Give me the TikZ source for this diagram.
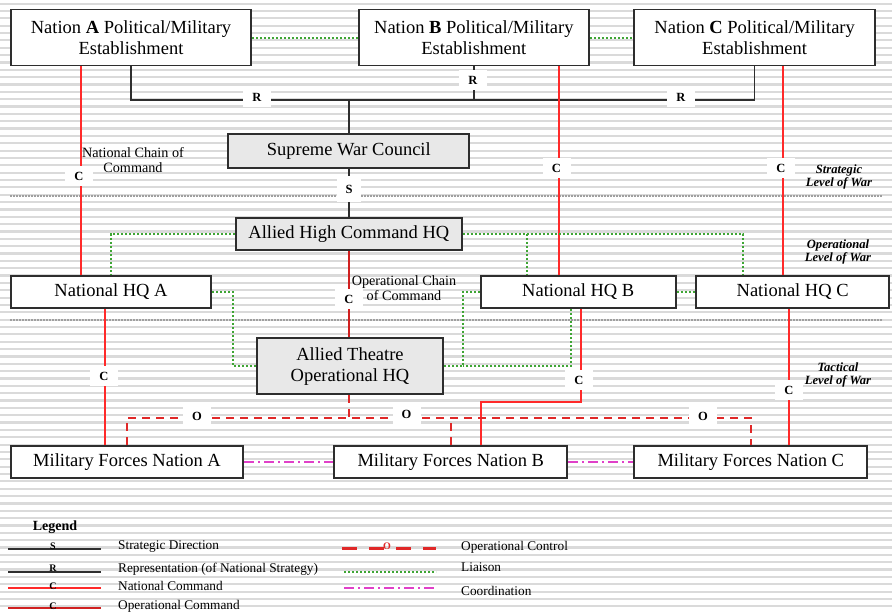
\documentclass[tikz,border=0pt]{standalone}
\usepackage{fontspec}
\setmainfont{Liberation Serif}
\usetikzlibrary{calc}
\definecolor{natred}{HTML}{FF2A2A}
\definecolor{opred}{HTML}{D02020}
\definecolor{ocred}{HTML}{E02828}
\definecolor{liagreen}{HTML}{3FA535}
\definecolor{coormag}{HTML}{E040C8}
\definecolor{boxgrey}{HTML}{E8E8E8}
\definecolor{stripe}{HTML}{DADADA}
\definecolor{edge}{HTML}{2E2E2E}
\begin{document}
\begin{tikzpicture}[x=1pt,y=-1pt,
 box/.style={draw=edge,line width=1.8pt,fill=white,inner sep=0,align=center,font=\fontsize{18.5}{21.5}\selectfont},
 gbox/.style={box,fill=boxgrey},
 lab/.style={fill=white,inner sep=0,minimum width=28,minimum height=20,font=\fontsize{12.5}{12.5}\selectfont\bfseries},
 leglab/.style={inner sep=0,font=\fontsize{10}{10}\selectfont\bfseries},
 rep/.style={draw=edge,line width=1.6pt},
 natc/.style={draw=natred,line width=1.6pt},
 opc/.style={draw=opred,line width=1.6pt},
 ctl/.style={draw=ocred,line width=1.6pt,dash pattern=on 8pt off 6pt},
 lia/.style={draw=liagreen,line width=2pt,dash pattern=on 2pt off 2pt},
 coo/.style={draw=coormag,line width=1.6pt,dash pattern=on 10pt off 4pt on 2pt off 4pt},
 small/.style={font=\fontsize{14.2}{15}\selectfont,align=center,inner sep=0},
 legtxt/.style={font=\fontsize{13.3}{14}\selectfont,anchor=west,inner sep=0},
 lvl/.style={font=\fontsize{12.6}{13}\selectfont\bfseries\itshape,align=center,inner sep=0},
 divider/.style={draw=gray!75,line width=1.5pt,dash pattern=on 1.5pt off 1.5pt},
]
\useasboundingbox (0,0) rectangle (892,611);
\fill[white] (0,0) rectangle (892,611);
\foreach \i in {0,...,83} {\fill[stripe] (0,{\i*7.35+2.5}) rectangle (892,{\i*7.35+4.7});}
% level dividers
\draw[divider] (10,196) -- (882,196);
\draw[divider] (10,320) -- (882,320);

% boxes
\node[box,minimum width=240,minimum height=56] (na) at (131,37.5) {Nation \textbf{A} Political/Military\\Establishment};
\node[box,minimum width=230,minimum height=56] (nb) at (473.85,37.5) {Nation \textbf{B} Political/Military\\Establishment};
\node[box,minimum width=240.7,minimum height=56] (nc) at (754.65,37.5) {Nation \textbf{C} Political/Military\\Establishment};
\node[gbox,minimum width=241,minimum height=34.3] (swc) at (348.8,151.2) {Supreme War Council};
\node[gbox,minimum width=225.7,minimum height=32.3] (ahc) at (348.85,233.85) {Allied High Command HQ};
\node[box,minimum width=200.6,minimum height=32] (nhqa) at (111,292) {National HQ A};
\node[box,minimum width=195,minimum height=32] (nhqb) at (578.2,292) {National HQ B};
\node[box,minimum width=192.7,minimum height=32] (nhqc) at (792.65,292) {National HQ C};
\node[gbox,minimum width=186.6,minimum height=56] (ato) at (350,366.3) {Allied Theatre\\Operational HQ};
\node[box,minimum width=232.6,minimum height=32.6] (mfa) at (127,462) {Military Forces Nation A};
\node[box,minimum width=233,minimum height=32.6] (mfb) at (450.8,462) {Military Forces Nation B};
\node[box,minimum width=233,minimum height=32.6] (mfc) at (750.8,462) {Military Forces Nation C};

% helper coordinates
\coordinate (rbar) at (349,100);
\coordinate (obar) at (349,418);
\coordinate (xa) at (81,0);
\coordinate (xb) at (559,0);
\coordinate (xc) at (782.7,0);
\coordinate (xa2) at (105,0);
\coordinate (xb2) at (581,0);
\coordinate (xb3) at (480.7,0);
\coordinate (bbend) at (581,401.7);
\coordinate (xc2) at (789,0);
\coordinate (lA) at (233,0);
\coordinate (lB) at (462.7,0);
\coordinate (lB2) at (571,0);
\coordinate (lBr) at (527.3,0);
\coordinate (lCr) at (742.7,0);

% representation
\draw[rep] (na.south) |- (rbar) -| (nc.south);
\draw[rep] (nb.south) -- (nb.south |- rbar);
\draw[rep] (rbar) -- (swc.north -| rbar);
% strategic direction
\draw[rep] (swc.south -| rbar) -- (ahc.north -| rbar);
% national command
\draw[natc] (na.south -| xa) -- (nhqa.north -| xa);
\draw[natc] (nb.south -| xb) -- (nhqb.north -| xb);
\draw[natc] (nc.south -| xc) -- (nhqc.north -| xc);
\draw[natc] (nhqa.south -| xa2) -- (mfa.north -| xa2);
\draw[natc] (nhqb.south -| xb2) -- (bbend) -| (mfb.north -| xb3);
\draw[natc] (nhqc.south -| xc2) -- (mfc.north -| xc2);
% operational command
\draw[opc] (ahc.south -| rbar) -- (ato.north -| rbar);
% operational control
\draw[ctl] (ato.south -| obar) -- (obar);
\draw[ctl] (mfa.north) |- (obar) -| (mfc.north);
\draw[ctl] (mfb.north) -- (mfb.north |- obar);
% liaison
\draw[lia] (na.east) -- (nb.west);
\draw[lia] (nb.east) -- (nc.west);
\draw[lia] (ahc.west) -| (nhqa.north);
\draw[lia] (ahc.east) -| (nhqc.north -| lCr);
\draw[lia] (ahc.east -| lBr) -- (nhqb.north -| lBr);
\draw[lia] (nhqa.east) -| (lA |- ato.west) -- (ato.west);
\draw[lia] (nhqb.west) -| (lB |- ato.east) -- (ato.east);
\draw[lia] (nhqb.south -| lB2) |- (lB |- ato.east);
\draw[lia] (nhqb.east) -- (nhqc.west);
% coordination
\draw[coo] (mfa.east) -- (mfb.west);
\draw[coo] (mfb.east) -- (mfc.west);

% labels
\node[lab] (lr1) at (257,97) {R};
\node[lab] (lr2) at (473,80) {R};
\node[lab] (lr3) at (681,97) {R};
\node[lab,minimum width=24,minimum height=26] (ls) at (349,189) {S};
\node[lab] (lc1) at (79,176) {C};
\node[lab] (lc2) at (556.5,168) {C};
\node[lab] (lc3) at (781,168) {C};
\node[lab] (lc4) at (349,299) {C};
\node[lab] (lc5) at (104,376) {C};
\node[lab] (lc6) at (579,380) {C};
\node[lab] (lc7) at (789,390) {C};
\node[lab] (lo1) at (197,416) {O};
\node[lab] (lo2) at (406.5,414) {O};
\node[lab] (lo3) at (703,416) {O};

\node[small] (ncc) at (133,160) {National Chain of\\Command};
\node[small] (occ) at (404,288.5) {Operational Chain\\of Command};
\node[lvl] (lv1) at (839,176.5) {Strategic\\Level of War};
\node[lvl] (lv2) at (838,251.5) {Operational\\Level of War};
\node[lvl] (lv3) at (838,375) {Tactical\\Level of War};

% legend
\node[font=\fontsize{14}{14}\selectfont\bfseries,inner sep=0] (leg) at (55,527) {Legend};
\draw[rep] (8,549) -- (101,549);
\node[leglab] at (53,546) {S};
\node[legtxt] at (118,547) {Strategic Direction};
\draw[rep] (8,572) -- (101,572);
\node[leglab] at (53,568) {R};
\node[legtxt] at (118,569) {Representation (of National Strategy)};
\draw[natc] (8,588) -- (101,588);
\node[leglab] at (53,586) {C};
\node[legtxt] at (118,586) {National Command};
\draw[opc] (8,608) -- (101,608);
\node[leglab] at (53,606) {C};
\node[legtxt] at (118,606) {Operational Command};

\draw[draw=ocred,line width=3pt,dash pattern=on 15pt off 12pt] (342,548) -- (436,548);
\node[leglab,text=ocred] at (387,546) {O};
\node[legtxt] at (461,547) {Operational Control};
\draw[lia] (344,572) -- (436,572);
\node[legtxt] at (461,567) {Liaison};
\draw[coo] (344,588) -- (437,588);
\node[legtxt] at (461,591) {Coordination};
\end{tikzpicture}
\end{document}
